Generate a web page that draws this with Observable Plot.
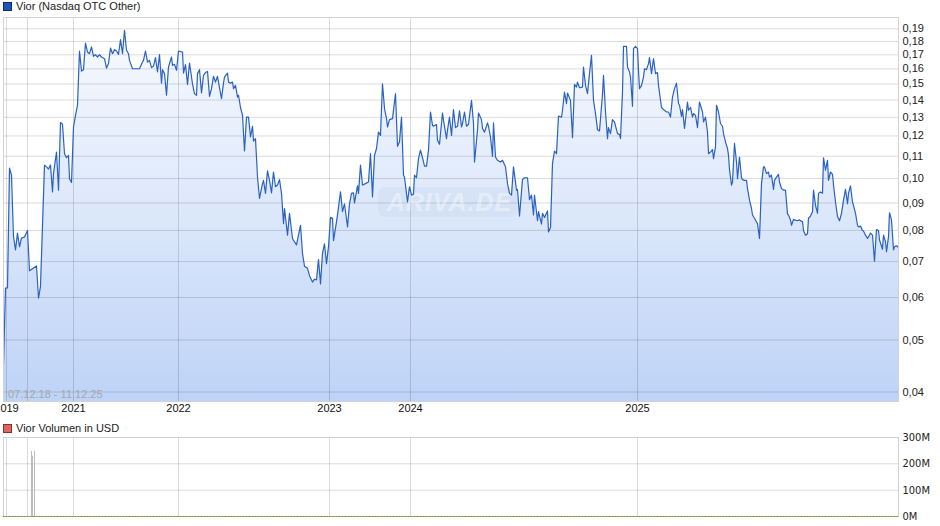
<!DOCTYPE html>
<html><head><meta charset="utf-8">
<script src="https://cdn.jsdelivr.net/npm/d3@7"></script>
<script src="https://cdn.jsdelivr.net/npm/@observablehq/plot@0.6"></script>
<style>
body{margin:0;background:#fff;font-family:"Liberation Sans",Arial,sans-serif;}
#wrap{position:relative;width:940px;height:526px;overflow:hidden;}
.leg{position:absolute;left:3px;font-size:11px;line-height:12px;height:12px;color:#222;display:flex;align-items:center;white-space:nowrap;}
.sw{display:inline-block;width:7px;height:7px;margin-right:4px;}
.range{position:absolute;left:8px;top:388px;font-size:11px;line-height:13px;color:#a8a8a8;}
#main,#vol{position:absolute;left:0;}
#main{top:0}
#vol{top:420px}
</style></head><body>
<div id="wrap">
  <div id="main"></div>
  <div id="vol"></div>
  <div class="leg" style="top:0px"><span class="sw" style="background:#1f55b5;border:1px solid #0d2c6b"></span>Vior (Nasdaq OTC Other)</div>
  <div class="range">07.12.18 - 11.12.25</div>
  <div class="leg" style="top:422px"><span class="sw" style="background:#dc6660;border:1px solid #8c2e2a"></span>Vior Volumen in USD</div>
</div>
<script>
// trading-session index and closing price
const sessions = [0,2,4,6,8,10,12,14,16,18,21,24,26,33,35,37,41,43,45,47,49,50,53,55,57,59,61,63,65,66,68,70,72,74,76,78,80,82,84,86,88,90,92,94,96,98,101,103,105,107,109,111,113,115,117,119,121,123,125,126,129,136,139,140,142,144,146,148,150,152,154,156,158,159,161,163,165,168,169,171,173,175,179,180,182,184,186,189,191,193,194,196,198,200,202,204,206,208,210,212,214,215,218,220,221,224,225,227,229,230,232,234,235,237,239,241,243,245,247,249,250,252,254,256,259,260,262,264,266,268,270,272,274,276,278,280,281,284,286,289,291,293,297,299,301,304,306,309,311,313,315,317,319,321,323,325,327,329,330,333,334,337,339,341,344,346,348,350,351,354,355,357,359,362,365,367,369,371,373,375,377,379,381,383,384,386,389,392,394,396,398,400,401,404,406,408,410,411,413,415,417,419,421,423,425,427,429,430,433,434,436,439,440,443,444,446,448,450,452,454,456,458,459,461,463,465,468,470,471,474,475,478,479,481,484,485,487,489,490,492,494,497,499,502,504,506,508,510,513,514,516,519,521,524,526,528,530,531,534,535,538,539,541,544,545,547,549,551,553,555,558,559,561,563,564,567,569,571,573,574,576,579,580,582,584,586,588,590,592,594,596,599,600,602,604,605,607,609,611,614,616,617,619,620,623,624,626,627,629,630,632,634,635,636,638,640,641,643,645,646,648,650,652,654,655,658,660,663,665,667,669,671,673,675,676,678,679,681,684,685,687,689,690,692,694,696,699,700,702,704,705,707,709,710,712,713,715,717,719,720,722,724,725,726,728,729,731,733,734,736,738,739,741,743,744,746,748,749,751,753,754,756,758,760,761,763,765,766,768,770,771,773,775,776,778,780,782,784,785,787,788,790,791,794,796,799,800,802,804,805,807,809,810,812,814,815,817,819,820,822,824,825,827,829,830,832,834,836,838,840,842,844,845,847,849,850,852,854,855,857,859,860,862,864,865,867,869,871,873,875,876,879,880,882,883,885,886,888,890,891,893,895];
const prices = [.0451,.0625,.0625,.1045,.1014,.0778,.0736,.0791,.0746,.0774,.0778,.0800,.0673,.0687,.0598,.0629,.1059,.1051,.1041,.1059,.0944,.1021,.1120,.0951,.1271,.1262,.1112,.1093,.1104,.0999,.0983,.1247,.1311,.1369,.1728,.1585,.1595,.1788,.1720,.1708,.1758,.1689,.1701,.1684,.1701,.1684,.1672,.1606,.1637,.1750,.1708,.1738,.1728,.1703,.1814,.1708,.1888,.1733,.1708,.1660,.1601,.1601,.1648,.1660,.1728,.1648,.1660,.1609,.1620,.1679,.1579,.1701,.1505,.1595,.1568,.1429,.1613,.1684,.1625,.1632,.1590,.1728,.1720,.1572,.1630,.1497,.1641,.1501,.1439,.1429,.1568,.1595,.1443,.1557,.1575,.1583,.1422,.1470,.1550,.1512,.1550,.1512,.1408,.1505,.1545,.1572,.1512,.1505,.1512,.1470,.1491,.1418,.1429,.1356,.1311,.1125,.1301,.1301,.1195,.1251,.1174,.1186,.1006,.0918,.0978,.0992,.0938,.1033,.0992,.0940,.1028,.0965,.0972,.0995,.0938,.0824,.0879,.0784,.0861,.0773,.0762,.0752,.0818,.0725,.0686,.0680,.0659,.0641,.0649,.0647,.0706,.0636,.0725,.0755,.0694,.0746,.0846,.0843,.0766,.0830,.0855,.0944,.0867,.0897,.0812,.0897,.0938,.0940,.0900,.0969,.0938,.1059,.0972,.0978,.0985,.1112,.0924,.1104,.1137,.1220,.1203,.1501,.1350,.1293,.1247,.1287,.1293,.1439,.1148,.1170,.1301,.1014,.1006,.0904,.0965,.0931,.0935,.1014,.1003,.1089,.1129,.1093,.1054,.1054,.1129,.1330,.1256,.1251,.1260,.1178,.1158,.1324,.1283,.1186,.1230,.1301,.1203,.1344,.1244,.1251,.1336,.1247,.1266,.1330,.1251,.1262,.1398,.1266,.1073,.1230,.1324,.1287,.1239,.1220,.1269,.1251,.1194,.1099,.1269,.1096,.1081,.1073,.1081,.1051,.0978,.0938,.0931,.1051,.0951,.0954,.0851,.0995,.1003,.1003,.0913,.0931,.0855,.0931,.0834,.0867,.0822,.0861,.0846,.0870,.0795,.0810,.1066,.1125,.1112,.1307,.1301,.1340,.1449,.1379,.1443,.1398,.1191,.1497,.1480,.1512,.1476,.1480,.1613,.1491,.1439,.1568,.1696,.1398,.1321,.1233,.1226,.1435,.1557,.1330,.1186,.1244,.1212,.1287,.1274,.1212,.1208,.1186,.1449,.1763,.1763,.1613,.1579,.1545,.1363,.1746,.1763,.1746,.1590,.1470,.1491,.1545,.1601,.1595,.1637,.1679,.1568,.1672,.1568,.1575,.1491,.1356,.1344,.1330,.1330,.1301,.1418,.1470,.1505,.1379,.1369,.1305,.1344,.1239,.1388,.1340,.1356,.1301,.1321,.1311,.1244,.1388,.1330,.1274,.1301,.1220,.1112,.1120,.1132,.1089,.1145,.1369,.1330,.1266,.1251,.1212,.1170,.1137,.1104,.1039,.0972,.0985,.1162,.1073,.0999,.1096,.1003,.0995,.0992,.0992,.0958,.0911,.0879,.0855,.0843,.0830,.0824,.0773,.0978,.1051,.1051,.1021,.1028,.1006,.1014,.0954,.0992,.1006,.1018,.0985,.0958,.0951,.0951,.0858,.0855,.0837,.0818,.0839,.0837,.0834,.0837,.0830,.0800,.0784,.0789,.0843,.0851,.0867,.0951,.0891,.0861,.0938,.0944,.0938,.1093,.1036,.1081,.0992,.1028,.1018,.0972,.0904,.0849,.0834,.0861,.0911,.0954,.0897,.0938,.0968,.0904,.0891,.0861,.0818,.0812,.0815,.0800,.0798,.0784,.0773,.0778,.0791,.0784,.0701,.0803,.0800,.0768,.0738,.0784,.0762,.0730,.0778,.0863,.0837,.0736,.0746,.0749,.0743];

const priceTicks = [0.04,0.05,0.06,0.07,0.08,0.09,0.10,0.11,0.12,0.13,0.14,0.15,0.16,0.17,0.18,0.19];
const yearLabels = ["2019","2020","2021","2022","2023","2024","2025"];
const yearSessions = [3,24,70,175,326,407,634];

const volSessions = [28,29,31];
const volValues = [247e6,229e6,247e6];
const volTicks = [0,100e6,200e6,300e6];

const data = sessions.map((s,i)=>({s, v:prices[i]}));
const volData = volSessions.map((s,i)=>({s, v:volValues[i]}));
const yMin = 0.0384, yMax = 0.1995, sessionMax = 895;

// drop year labels that would collide with the previous one (as the original does with 2020)
const labelledSessions = [], labelOf = new Map();
let last = -Infinity;
yearSessions.forEach((s,i)=>{ if (s - last >= 30) { labelledSessions.push(s); labelOf.set(s, yearLabels[i]); last = s; } });

const ns = "http://www.w3.org/2000/svg";
const gradientDefs = (index, scales, values, dims) => {
  const defs = document.createElementNS(ns, "defs");
  const top = dims.marginTop, bottom = dims.height - dims.marginBottom;
  defs.innerHTML = `<linearGradient id="areaGrad" gradientUnits="userSpaceOnUse" x1="0" y1="${top}" x2="0" y2="${bottom}">
    <stop offset="0" stop-color="#f9fbff"/><stop offset="0.5" stop-color="#dde8fb"/><stop offset="1" stop-color="#bdd3f7"/></linearGradient>`;
  return defs;
};
const watermark = (index, scales, values, dims) => {
  const g = document.createElementNS(ns, "g");
  const cx = (dims.marginLeft + dims.width - dims.marginRight)/2 - 3;
  const cy = (dims.marginTop + dims.height - dims.marginBottom)/2 - 7;
  g.innerHTML = `<rect x="${cx-70}" y="${cy-15}" width="140" height="30" rx="8" fill="#8aa3c8" fill-opacity="0.09"/>
    <text x="${cx+2}" y="${cy}" dy="0.36em" text-anchor="middle" font-size="25" font-style="italic" font-weight="bold" font-family="Liberation Sans, Arial, sans-serif" fill="#ffffff" fill-opacity="0.4" letter-spacing="1">ARIVA.DE</text>`;
  return g;
};

const commonStyle = {fontFamily:"Liberation Sans, Arial, sans-serif", fontSize:"11px", color:"#222", background:"transparent", overflow:"visible"};

const main = Plot.plot({
  width:940, height:420, marginTop:17, marginLeft:3, marginRight:42, marginBottom:19,
  style: commonStyle,
  x:{domain:[0,sessionMax]},
  y:{type:"log", domain:[yMin,yMax]},
  marks:[
    gradientDefs,
    Plot.areaY(data,{x:"s", y1:yMin, y2:"v", fill:"url(#areaGrad)"}),
    Plot.gridY(priceTicks,{stroke:"#000", strokeOpacity:0.14}),
    Plot.gridX(yearSessions,{stroke:"#000", strokeOpacity:0.14}),
    watermark,
    Plot.lineY(data,{x:"s", y:"v", stroke:"#2a62c2", strokeWidth:1.2}),
    Plot.frame({stroke:"#d2d2d2"}),
    Plot.axisY(priceTicks,{anchor:"right", tickSize:0, tickPadding:4, tickFormat:d=>d.toFixed(2).replace(".",","), fill:"#222", label:null}),
    Plot.axisX(labelledSessions,{anchor:"bottom", tickSize:0, tickPadding:3, tickFormat:d=>labelOf.get(d), fill:"#111", label:null})
  ]
});
document.getElementById("main").append(main);

const vol = Plot.plot({
  width:940, height:106, marginTop:17, marginLeft:3, marginRight:42, marginBottom:10,
  style: commonStyle,
  x:{domain:[0,sessionMax], axis:null},
  y:{domain:[0,300e6]},
  marks:[
    Plot.gridY(volTicks,{stroke:"#000", strokeOpacity:0.14}),
    Plot.gridX(yearSessions,{stroke:"#000", strokeOpacity:0.14}),
    Plot.ruleX(volData,{x:"s", y1:0, y2:"v", stroke:"#bcbcbc", strokeWidth:1}),
    Plot.frame({stroke:"#d2d2d2"}),
    Plot.ruleY([0],{stroke:"#e05a5a", strokeDasharray:"1.5,1.5"}),
    Plot.ruleY([0],{stroke:"#5cc45c", strokeDasharray:"1.5,1.5", strokeDashoffset:1.5}),
    Plot.axisY(volTicks,{anchor:"right", tickSize:0, tickPadding:4, tickFormat:d=>(d/1e6)+"M", fill:"#222", label:null,
      fontFamily:"Liberation Sans Narrow, DejaVu Sans Condensed, Arial Narrow, sans-serif", fontSize:11})
  ]
});
document.getElementById("vol").append(vol);
</script>
</body></html>
